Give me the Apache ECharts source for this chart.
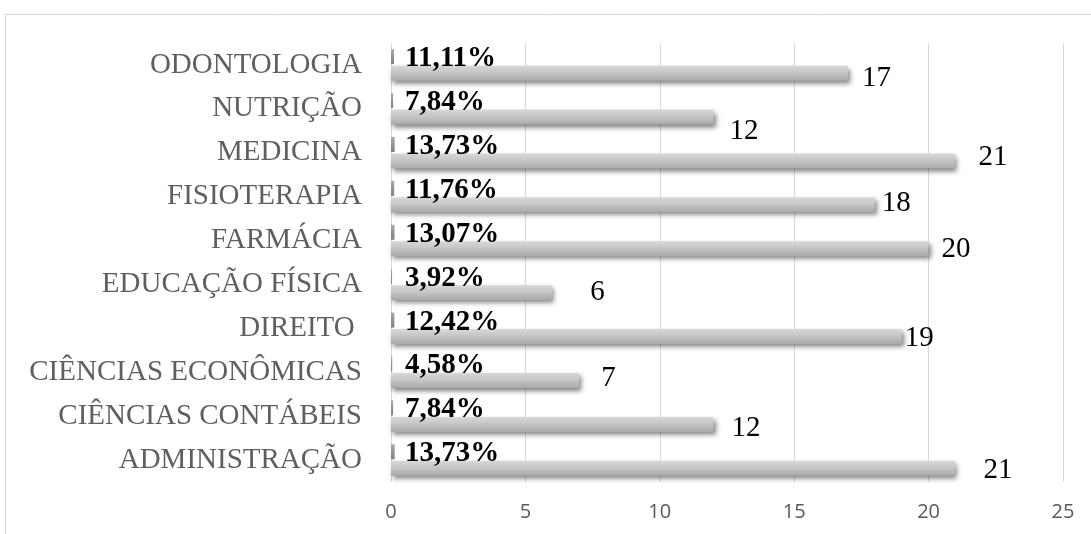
<!DOCTYPE html>
<html>
<head>
<meta charset="utf-8">
<script src="https://cdn.jsdelivr.net/npm/echarts@6/dist/echarts.min.js"></script>
<style>
  html, body { margin: 0; padding: 0; background: #ffffff; }
  #chart { width: 1091px; height: 534px; }
</style>
</head>
<body>
<div id="chart"></div>
<script>
// Courses, listed bottom to top as they appear on the category axis
const courses = [
  'ADMINISTRAÇÃO',
  'CIÊNCIAS CONTÁBEIS',
  'CIÊNCIAS ECONÔMICAS',
  'DIREITO ',
  'EDUCAÇÃO FÍSICA',
  'FARMÁCIA',
  'FISIOTERAPIA',
  'MEDICINA',
  'NUTRIÇÃO',
  'ODONTOLOGIA'
];

// Number of respondents per course
const counts = [21, 12, 7, 19, 6, 20, 18, 21, 12, 17];

// Share of respondents per course (as fractions, plotted on the same axis)
const shares = [0.1373, 0.0784, 0.0458, 0.1242, 0.0392, 0.1307, 0.1176, 0.1373, 0.0784, 0.1111];

// Value-axis ticks
const xTicks = [0, 5, 10, 15, 20, 25];

// Hand-placed nudges [dx, dy] for each count label
const countLabelNudge = [
  [28, 2], [18, 4], [22, -2], [3, 2], [38, 0],
  [13, 1], [7, -2], [23, -4], [16, 14], [14, 5]
];

const serif = '"Liberation Serif", "Times New Roman", serif';

const barFill = new echarts.graphic.LinearGradient(0, 0, 0, 1, [
  { offset: 0, color: '#d8d8d8' },
  { offset: 0.5, color: '#c4c4c4' },
  { offset: 1, color: '#a8a8a8' }
]);
const stubFill = new echarts.graphic.LinearGradient(0, 0, 0, 1, [
  { offset: 0, color: '#a8a8a8' },
  { offset: 1, color: '#808080' }
]);

const chart = echarts.init(document.getElementById('chart'), null, { renderer: 'canvas' });

chart.setOption({
  animation: false,
  backgroundColor: '#ffffff',
  graphic: [{
    type: 'rect',
    silent: true,
    z: -10,
    shape: { x: 5.5, y: 14.5, width: 1200, height: 600 },
    style: { fill: 'none', stroke: '#d9d9d9', lineWidth: 1 }
  }],
  grid: { left: 391, right: 28, top: 43, bottom: 52 },
  xAxis: {
    type: 'value',
    min: xTicks[0],
    max: xTicks[xTicks.length - 1],
    interval: xTicks[1] - xTicks[0],
    axisLine: { show: false },
    axisTick: { show: false },
    axisLabel: {
      margin: 20,
      color: '#595959',
      fontSize: 20,
      fontFamily: '"Open Sans", "Liberation Sans", sans-serif'
    },
    splitLine: { show: true, lineStyle: { color: '#d9d9d9', width: 1 } }
  },
  yAxis: {
    type: 'category',
    data: courses,
    axisLine: { show: false },
    axisTick: { show: false },
    splitLine: { show: false },
    axisLabel: {
      margin: 29,
      color: '#5f5f5f',
      fontSize: 29,
      fontFamily: serif
    }
  },
  series: [
    {
      name: 'Percentual',
      type: 'bar',
      data: shares,
      barWidth: 15,
      barGap: '10%',
      itemStyle: { color: stubFill },
      label: {
        show: true,
        position: 'insideLeft',
        distance: 14,
        offset: [0, 2],
        color: '#000000',
        fontSize: 29,
        fontWeight: 'bold',
        fontFamily: serif,
        formatter: p => (p.value * 100).toFixed(2).replace('.', ',') + '%'
      }
    },
    {
      name: 'Quantidade',
      type: 'bar',
      barWidth: 15,
      barGap: '10%',
      data: counts.map((v, i) => ({
        value: v,
        label: { offset: countLabelNudge[i] }
      })),
      itemStyle: {
        color: barFill,
        shadowColor: 'rgba(0,0,0,0.5)',
        shadowBlur: 5,
        shadowOffsetX: 2,
        shadowOffsetY: 3
      },
      label: {
        show: true,
        position: 'right',
        distance: 0,
        color: '#000000',
        fontSize: 29,
        fontFamily: serif
      }
    }
  ]
});
</script>
</body>
</html>
